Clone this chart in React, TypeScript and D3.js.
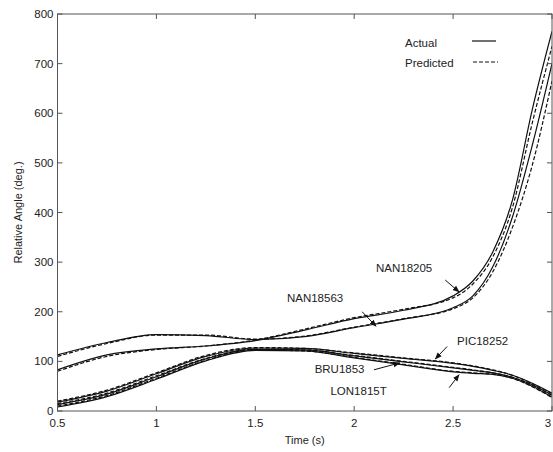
import { useEffect, useRef } from 'react';
import * as d3 from 'd3';

const times = [0.5, 0.75, 1.0, 1.25, 1.5, 1.75, 2.0, 2.25, 2.5, 2.6, 2.7, 2.8, 2.9, 3.0];

const nan18205Actual = [83, 113, 125, 131, 142, 163, 186, 203, 232, 262, 320, 425, 607, 765];
const nan18205Pred = [80, 110, 124, 131, 143, 165, 188, 205, 228, 256, 310, 410, 580, 735];
const nan18563Actual = [113, 138, 154, 152, 144, 150, 168, 185, 208, 232, 290, 391, 535, 700];
const nan18563Pred = [110, 136, 153, 153, 145, 151, 169, 186, 206, 228, 280, 370, 495, 665];
const pic18252Actual = [18, 40, 75, 110, 127, 126, 116, 106, 96, 90, 82, 72, 56, 36];
const pic18252Pred = [20, 42, 77, 112, 128, 126, 117, 107, 97, 91, 83, 72, 55, 35];
const bru1853Actual = [13, 34, 69, 105, 124, 123, 111, 99, 87, 82, 77, 68, 53, 32];
const bru1853Pred = [15, 36, 71, 106, 125, 123, 112, 100, 88, 83, 77, 68, 52, 31];
const lon1815Actual = [8, 29, 64, 101, 122, 121, 107, 93, 79, 76, 74, 66, 50, 28];
const lon1815Pred = [10, 31, 66, 102, 123, 121, 108, 94, 80, 77, 74, 66, 49, 27];

const xTicks = [0.5, 1, 1.5, 2, 2.5, 3];
const yTicks = [0, 100, 200, 300, 400, 500, 600, 700, 800];

// label text, text anchor point (t, v), arrow tip (t, v)
const labels: { name: string; tx: number; ty: number; from: [number, number]; to: [number, number] }[] = [
  { name: 'NAN18205', tx: 2.11, ty: 280, from: [2.46, 264], to: [2.53, 240] },
  { name: 'NAN18563', tx: 1.66, ty: 220, from: [2.04, 200], to: [2.11, 171] },
  { name: 'PIC18252', tx: 2.52, ty: 133, from: [2.47, 130], to: [2.41, 105] },
  { name: 'BRU1853', tx: 1.80, ty: 76, from: [2.1, 83], to: [2.23, 97] },
  { name: 'LON1815T', tx: 1.88, ty: 32, from: [2.48, 47], to: [2.53, 73] },
];

export default function App() {
  const svgRef = useRef<SVGSVGElement>(null);

  useEffect(() => {
    document.body.style.margin = '0';
    if (!svgRef.current) return;
    const svg = d3.select(svgRef.current);
    svg.selectAll('*').remove();

    const left = 57.5, right = 552, top = 14, bottom = 411;
    const x = d3.scaleLinear().domain([0.5, 3]).range([left, right]);
    const y = d3.scaleLinear().domain([0, 800]).range([bottom, top]);
    const font = 'Liberation Sans, Arial, sans-serif';
    const ink = '#222';

    const defs = svg.append('defs');
    defs.append('clipPath').attr('id', 'plot')
      .append('rect').attr('x', left).attr('y', top).attr('width', right - left).attr('height', bottom - top);
    defs.append('marker').attr('id', 'arr').attr('viewBox', '0 0 10 10')
      .attr('refX', 9).attr('refY', 5).attr('markerWidth', 7).attr('markerHeight', 7)
      .attr('orient', 'auto')
      .append('path').attr('d', 'M0,1 L10,5 L0,9 Z').attr('fill', '#111');

    const line = d3.line<number>()
      .x((_, i) => x(times[i]))
      .y(d => y(d))
      .curve(d3.curveMonotoneX);

    const series: [number[], boolean][] = [
      [nan18205Actual, false], [nan18205Pred, true],
      [nan18563Actual, false], [nan18563Pred, true],
      [pic18252Actual, false], [pic18252Pred, true],
      [bru1853Actual, false], [bru1853Pred, true],
      [lon1815Actual, false], [lon1815Pred, true],
    ];

    const g = svg.append('g').attr('clip-path', 'url(#plot)');
    series.forEach(([vals, dashed]) => {
      g.append('path')
        .datum(vals)
        .attr('fill', 'none')
        .attr('stroke', '#111')
        .attr('stroke-width', 1.2)
        .attr('stroke-dasharray', dashed ? '4,2' : null)
        .attr('d', line);
    });

    // frame
    svg.append('rect')
      .attr('x', left).attr('y', top).attr('width', right - left).attr('height', bottom - top)
      .attr('fill', 'none').attr('stroke', '#555').attr('stroke-width', 1);

    const tl = 5;
    xTicks.forEach(t => {
      svg.append('line').attr('x1', x(t)).attr('x2', x(t)).attr('y1', bottom).attr('y2', bottom - tl).attr('stroke', '#555');
      svg.append('line').attr('x1', x(t)).attr('x2', x(t)).attr('y1', top).attr('y2', top + tl).attr('stroke', '#555');
      svg.append('text').attr('x', Math.min(x(t), 548)).attr('y', bottom + 16)
        .attr('text-anchor', 'middle').attr('font-family', font).attr('font-size', 11.5).attr('fill', ink)
        .text(String(t));
    });
    yTicks.forEach(v => {
      svg.append('line').attr('x1', left).attr('x2', left + tl).attr('y1', y(v)).attr('y2', y(v)).attr('stroke', '#555');
      svg.append('line').attr('x1', right).attr('x2', right - tl).attr('y1', y(v)).attr('y2', y(v)).attr('stroke', '#555');
      svg.append('text').attr('x', left - 4).attr('y', y(v) + 4)
        .attr('text-anchor', 'end').attr('font-family', font).attr('font-size', 11.5).attr('fill', ink)
        .text(String(v));
    });

    svg.append('text').attr('x', (left + right) / 2).attr('y', 444)
      .attr('text-anchor', 'middle').attr('font-family', font).attr('font-size', 11).attr('fill', ink)
      .text('Time (s)');
    svg.append('text').attr('transform', `translate(22,${(top + bottom) / 2}) rotate(-90)`)
      .attr('text-anchor', 'middle').attr('font-family', font).attr('font-size', 11).attr('fill', ink)
      .text('Relative Angle (deg.)');

    // legend
    svg.append('text').attr('x', 405).attr('y', 47).attr('font-family', font).attr('font-size', 11.5).attr('fill', ink).text('Actual');
    svg.append('text').attr('x', 405).attr('y', 67).attr('font-family', font).attr('font-size', 11.5).attr('fill', ink).text('Predicted');
    svg.append('line').attr('x1', 472).attr('x2', 496).attr('y1', 41).attr('y2', 41).attr('stroke', '#111').attr('stroke-width', 1.2);
    svg.append('line').attr('x1', 473).attr('x2', 498).attr('y1', 62).attr('y2', 62).attr('stroke', '#111')
      .attr('stroke-width', 1.2).attr('stroke-dasharray', '4,2');

    // labels with arrows
    labels.forEach(l => {
      svg.append('text').attr('x', x(l.tx)).attr('y', y(l.ty)).attr('font-family', font)
        .attr('font-size', 11.5).attr('fill', ink).text(l.name);
      svg.append('line')
        .attr('x1', x(l.from[0])).attr('y1', y(l.from[1]))
        .attr('x2', x(l.to[0])).attr('y2', y(l.to[1]))
        .attr('stroke', '#111').attr('stroke-width', 1)
        .attr('marker-end', 'url(#arr)');
    });
  }, []);

  return <svg ref={svgRef} width={553} height={452} style={{ display: 'block', background: '#fff' }} />;
}
